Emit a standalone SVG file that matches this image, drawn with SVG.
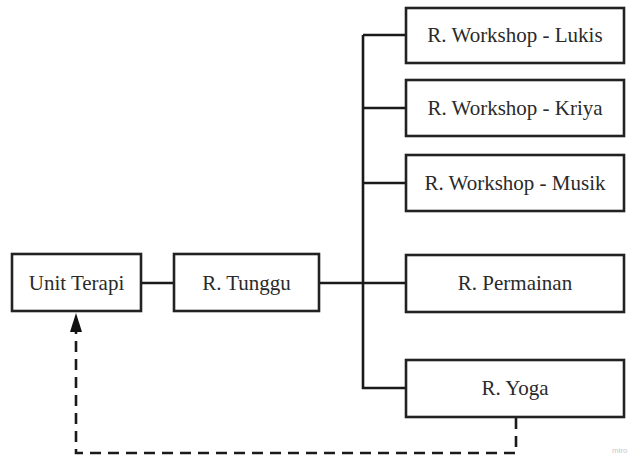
<svg xmlns="http://www.w3.org/2000/svg" width="629" height="458" viewBox="0 0 629 458">
  <style>
    .box { fill: #ffffff; stroke: #222222; stroke-width: 2.6; }
    .label { font-size: 21px; fill: #2a2a2a; text-anchor: middle; }
    .link { fill: none; stroke: #1a1a1a; stroke-width: 2.6; }
    .dash { fill: none; stroke: #1a1a1a; stroke-width: 2.6; stroke-dasharray: 11 7; }
  </style>
  <rect width="629" height="458" fill="#ffffff"/>

  <g id="connectors">
    <line class="link" x1="141" y1="283" x2="174" y2="283"/>
    <line class="link" x1="319" y1="283" x2="363" y2="283"/>
    <line class="link" x1="363" y1="35" x2="363" y2="389"/>
    <line class="link" x1="363" y1="35" x2="406" y2="35"/>
    <line class="link" x1="363" y1="108" x2="406" y2="108"/>
    <line class="link" x1="363" y1="183" x2="406" y2="183"/>
    <line class="link" x1="363" y1="283" x2="406" y2="283"/>
    <line class="link" x1="362" y1="388" x2="406" y2="388"/>
    <path class="dash" d="M516 418 V453 H76 V330"/>
    <path d="M76 313 L82 332 L70 332 Z" fill="#111111"/>
  </g>

  <g font-family="'Liberation Serif', 'Times New Roman', Times, serif">
    <g id="unit-terapi">
      <rect class="box" x="12" y="254" width="129" height="57"/>
      <text class="label" x="76.5" y="290">Unit Terapi</text>
    </g>
    <g id="r-tunggu">
      <rect class="box" x="174" y="254" width="145" height="57"/>
      <text class="label" x="246.5" y="290">R. Tunggu</text>
    </g>
    <g id="r-workshop-lukis">
      <rect class="box" x="406" y="8" width="218" height="55"/>
      <text class="label" x="515" y="42">R. Workshop - Lukis</text>
    </g>
    <g id="r-workshop-kriya">
      <rect class="box" x="406" y="80" width="218" height="56"/>
      <text class="label" x="515" y="115">R. Workshop - Kriya</text>
    </g>
    <g id="r-workshop-musik">
      <rect class="box" x="406" y="155" width="218" height="56"/>
      <text class="label" x="515" y="190">R. Workshop - Musik</text>
    </g>
    <g id="r-permainan">
      <rect class="box" x="406" y="255" width="218" height="57"/>
      <text class="label" x="515" y="290">R. Permainan</text>
    </g>
    <g id="r-yoga">
      <rect class="box" x="406" y="360" width="218" height="57"/>
      <text class="label" x="515" y="395">R. Yoga</text>
    </g>
  </g>

  <text x="612" y="453" font-family="'Liberation Sans', Arial, sans-serif" font-size="8" fill="#c8c8c8">miro</text>
</svg>
